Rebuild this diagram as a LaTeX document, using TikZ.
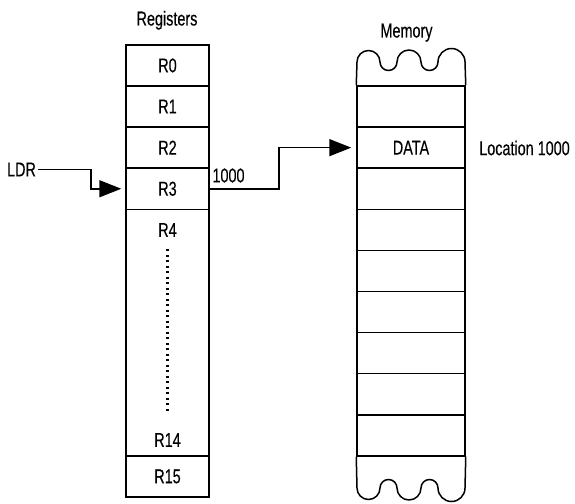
\documentclass[tikz,border=0pt]{standalone}
\usepackage{fontspec}
\setmainfont[FakeStretch=0.72,FakeBold=0.3]{Liberation Sans}
\usetikzlibrary{arrows.meta}
\begin{document}
\begin{tikzpicture}[x=1pt,y=-1pt,
  every node/.style={font=\fontsize{20}{22}\selectfont},
  lbl/.style={inner sep=2pt},
  rcell/.style={draw,line width=1.5pt,minimum width=83pt,minimum height=41.1pt,inner sep=0pt},
  mcell/.style={draw,line width=1.5pt,minimum width=108pt,minimum height=41.1pt,inner sep=0pt},
  outline/.style={line width=1.5pt,line join=round},
  conn/.style={line width=1.5pt,-{Triangle[length=22pt,width=17pt]}},
  dotline/.style={line width=2.2pt,dash pattern=on 2pt off 3.5pt}]
\useasboundingbox (0,0) rectangle (575,503);
% titles
\node[lbl,anchor=base] (regtitle) at (167,25.5) {Registers};
\node[lbl,anchor=base] (memtitle) at (406.5,37.5) {Memory};
% registers
\node[rcell] (r0) at (167.5,65.45) {R0};
\node[rcell] (r1) at (167.5,106.55) {R1};
\node[rcell] (r2) at (167.5,147.65) {R2};
\node[rcell] (r3) at (167.5,188.75) {R3};
\node[rcell,minimum height=246.6pt] (r4) at (167.5,332.6) {};
\node[rcell] (r15) at (167.5,476.45) {R15};
\node[lbl] (r4lab) at (167.5,230) {R4};
\node[lbl] (r14lab) at (167.5,440) {R14};
\draw[dotline] (167.5,249) -- (167.5,413);
% memory
\foreach \k in {1,3,4,5,6,7,8,9}
  \node[mcell] (m\k) at (411,{86+41.1*(\k-0.5)}) {};
\node[mcell] (m2) at (411,147.65) {DATA};
\draw[outline] (m1.north west) -- (357,62)
  arc[start angle=180,end angle=0,radius=11.5pt]
  arc[start angle=180,end angle=360,radius=8.5pt]
  arc[start angle=180,end angle=0,radius=12pt]
  arc[start angle=180,end angle=360,radius=8.5pt]
  arc[start angle=180,end angle=0,radius=13.5pt]
  -- (m1.north east);
\draw[outline] (m9.south west) -- (357,488)
  arc[start angle=180,end angle=360,radius=11.5pt]
  arc[start angle=180,end angle=0,radius=8.5pt]
  arc[start angle=180,end angle=360,radius=12pt]
  arc[start angle=180,end angle=0,radius=8.5pt]
  arc[start angle=180,end angle=360,radius=13.5pt]
  -- (m9.south east);
% labels
\node[lbl] (ldr) at (21.5,169.5) {LDR};
\node[lbl] (addr) at (228.5,175.5) {1000};
\node[lbl] (loc) at (524.5,148) {Location 1000};
% connectors
\coordinate (ldrbend) at (91,180);
\coordinate (membend) at (279,170);
\draw[conn,shorten >=4pt] (ldr.east) -| (ldrbend) |- (r3.west);
\draw[conn,shorten >=5pt] (r3.east) -| (membend) |- (m2.west);
\end{tikzpicture}
\end{document}
